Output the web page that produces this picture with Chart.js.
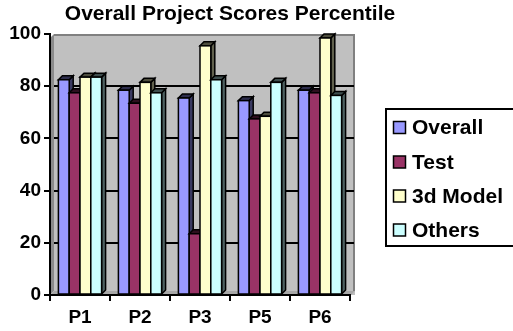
<!DOCTYPE html>
<html>
<head>
<meta charset="utf-8">
<script src="https://cdn.jsdelivr.net/npm/chart.js@4/dist/chart.umd.min.js"></script>
<style>
  html, body { margin: 0; padding: 0; background: #ffffff; }
  #wrap { width: 513px; height: 331px; }
</style>
</head>
<body>
<div id="wrap"><canvas id="c" width="513" height="331"></canvas></div>
<script>
// Project scores, percentile per category
const projects = ['P1', 'P2', 'P3', 'P5', 'P6'];
const overall  = [84, 80, 77, 76, 80];
const test     = [79, 75, 25, 69, 79];
const model3d  = [85, 83, 97, 70, 100];
const others   = [85, 79, 84, 83, 78];
const seriesNames = ['Overall', 'Test', '3d Model', 'Others'];
const yTicks = [0, 20, 40, 60, 80, 100];

const colors = ['#9999ff', '#993366', '#ffffcc', '#ccffff'];
const FONT = "'Liberation Sans', Arial, sans-serif";
const DEPTH = 4;

function shade(hex, f) {
  const n = parseInt(hex.slice(1), 16);
  const r = Math.round(((n >> 16) & 255) * f);
  const g = Math.round(((n >> 8) & 255) * f);
  const b = Math.round((n & 255) * f);
  return `rgb(${r},${g},${b})`;
}

// Gray 3D walls behind the plot, then the horizontal gridlines on the back wall
const wallPlugin = {
  id: 'wall',
  beforeDraw(chart) {
    const { ctx, chartArea: a } = chart;
    ctx.save();
    // back wall
    ctx.fillStyle = '#c0c0c0';
    ctx.fillRect(a.left + DEPTH, a.top, a.right + 5 - (a.left + DEPTH), a.bottom - a.top);
    // left side wall
    ctx.fillStyle = '#8a8a8a';
    ctx.beginPath();
    ctx.moveTo(a.left, a.top + DEPTH);
    ctx.lineTo(a.left + DEPTH, a.top);
    ctx.lineTo(a.left + DEPTH, a.bottom - DEPTH);
    ctx.lineTo(a.left, a.bottom);
    ctx.closePath();
    ctx.fill();
    // floor
    ctx.fillStyle = '#a8a8a8';
    ctx.beginPath();
    ctx.moveTo(a.left, a.bottom);
    ctx.lineTo(a.left + DEPTH, a.bottom - DEPTH);
    ctx.lineTo(a.right + 5, a.bottom - DEPTH);
    ctx.lineTo(a.right + 1, a.bottom);
    ctx.closePath();
    ctx.fill();
    // top and right edges of the back wall
    ctx.strokeStyle = '#808080';
    ctx.lineWidth = 2;
    ctx.beginPath();
    ctx.moveTo(a.left + DEPTH, a.top + 1);
    ctx.lineTo(a.right + 4, a.top + 1);
    ctx.lineTo(a.right + 4, a.bottom - DEPTH);
    ctx.stroke();
    ctx.restore();
  },
  beforeDatasetsDraw(chart) {
    const { ctx, chartArea: a, scales: { y } } = chart;
    ctx.save();
    ctx.strokeStyle = '#000000';
    ctx.lineWidth = 2;
    for (const v of yTicks) {
      if (v === 0 || v === 100) continue;
      const py = Math.round(y.getPixelForValue(v));
      ctx.beginPath();
      ctx.moveTo(a.left + DEPTH, py);
      ctx.lineTo(a.right + 4, py);
      ctx.stroke();
    }
    ctx.restore();
  }
};

// Bars drawn as boxes (side, top, front) from the library's bar elements
const boxPlugin = {
  id: 'boxes',
  beforeDatasetDraw() { return false; },
  afterDatasetsDraw(chart) {
    const ctx = chart.ctx;
    const metas = chart.data.datasets.map((_, i) => chart.getDatasetMeta(i));
    ctx.save();
    ctx.lineWidth = 1.5;
    ctx.strokeStyle = '#000000';
    for (let j = 0; j < projects.length; j++) {
      metas.forEach((meta, i) => {
        const el = meta.data[j];
        const col = chart.data.datasets[i].backgroundColor;
        const x1 = el.x - el.width / 2, x2 = el.x + el.width / 2;
        const yt = el.y, yb = el.base;
        const yf = yt + DEPTH;
        // side face
        ctx.fillStyle = shade(col, 0.38);
        ctx.beginPath();
        ctx.moveTo(x2, yf);
        ctx.lineTo(x2 + DEPTH, yt);
        ctx.lineTo(x2 + DEPTH, yb - DEPTH);
        ctx.lineTo(x2, yb);
        ctx.closePath();
        ctx.fill();
        ctx.stroke();
        // top face
        ctx.fillStyle = shade(col, 0.3);
        ctx.beginPath();
        ctx.moveTo(x1, yf);
        ctx.lineTo(x1 + DEPTH, yt);
        ctx.lineTo(x2 + DEPTH, yt);
        ctx.lineTo(x2, yf);
        ctx.closePath();
        ctx.fill();
        ctx.stroke();
        // front face
        ctx.fillStyle = col;
        ctx.fillRect(x1, yf, x2 - x1, yb - yf);
        ctx.strokeRect(x1, yf, x2 - x1, yb - yf);
      });
    }
    ctx.restore();
  }
};

// Title and boxed legend
const textPlugin = {
  id: 'texts',
  afterDraw(chart) {
    const ctx = chart.ctx;
    ctx.save();
    ctx.fillStyle = '#000000';
    ctx.font = `bold 21px ${FONT}`;
    ctx.textAlign = 'center';
    ctx.textBaseline = 'middle';
    ctx.fillText('Overall Project Scores Percentile', 230, 14);

    // legend box
    ctx.strokeStyle = '#000000';
    ctx.lineWidth = 2;
    ctx.strokeRect(386, 109, 140, 137);
    const rows = [127.5, 162, 196, 230];
    ctx.textAlign = 'left';
    chart.data.datasets.forEach((ds, i) => {
      const cy = rows[i];
      ctx.fillStyle = ds.backgroundColor;
      ctx.fillRect(393.5, cy - 6, 12, 12);
      ctx.lineWidth = 1.5;
      ctx.strokeRect(393.5, cy - 6, 12, 12);
      ctx.fillStyle = '#000000';
      ctx.fillText(ds.label, 412, cy + 1);
    });
    ctx.restore();
  }
};

const seriesValues = [overall, test, model3d, others];

new Chart(document.getElementById('c'), {
  type: 'bar',
  data: {
    labels: projects,
    datasets: seriesNames.map((name, i) => ({
      label: name,
      data: seriesValues[i],
      backgroundColor: colors[i],
      borderColor: '#000000',
      borderWidth: 1.5
    }))
  },
  options: {
    responsive: false,
    animation: false,
    devicePixelRatio: 1,
    layout: { padding: { top: 34, right: 163, left: 0, bottom: 0 } },
    datasets: { bar: { categoryPercentage: 0.72, barPercentage: 1.0 } },
    plugins: { legend: { display: false }, title: { display: false }, tooltip: { enabled: false } },
    scales: {
      x: {
        offset: true,
        grid: { offset: true, drawOnChartArea: false, color: '#000000', lineWidth: 2, tickLength: 6 },
        border: { color: '#000000', width: 2 },
        ticks: { color: '#000000', font: { family: FONT, size: 19, weight: 'bold' }, padding: 5 },
        afterFit(s) { s.height = 36; }
      },
      y: {
        min: 0,
        max: 100,
        afterBuildTicks(s) { s.ticks = yTicks.map(v => ({ value: v })); },
        grid: { drawOnChartArea: false, color: '#000000', lineWidth: 2, tickLength: 6 },
        border: { color: '#000000', width: 2 },
        ticks: { color: '#000000', font: { family: FONT, size: 19, weight: 'bold' }, padding: 3 },
        afterFit(s) { s.width = 50; }
      }
    }
  },
  plugins: [wallPlugin, boxPlugin, textPlugin]
});
</script>
</body>
</html>
